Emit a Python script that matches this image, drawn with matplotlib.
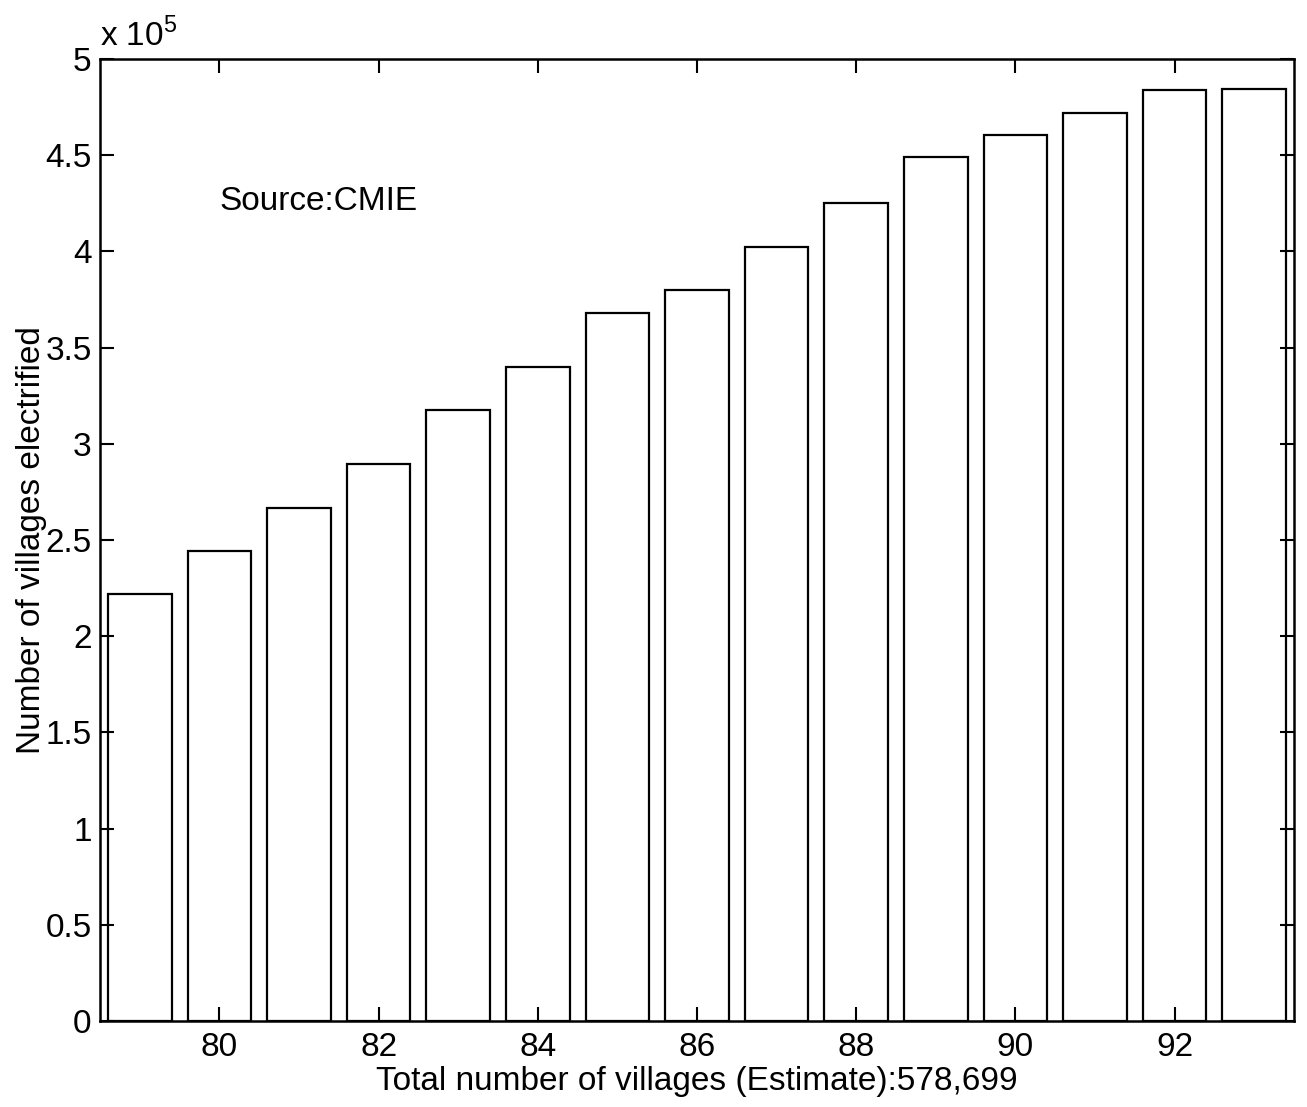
#!/usr/bin/python
# Villages electrified per year (MATLAB style bar chart)
import matplotlib
matplotlib.use('Agg')
import matplotlib.pyplot as plt
import numpy as np

# Years (19xx) and number of villages electrified
years = [79, 80, 81, 82, 83, 84, 85, 86, 87, 88, 89, 90, 91, 92, 93]
villages = [222100, 244200, 266400, 289700, 317800, 340100, 368100, 380100,
            402400, 425200, 449100, 460400, 472100, 484100, 484300]
x_ticks = [80, 82, 84, 86, 88, 90, 92]
y_ticks = [0, 0.5, 1, 1.5, 2, 2.5, 3, 3.5, 4, 4.5, 5]

plt.rcParams['font.family'] = ['Liberation Sans', 'DejaVu Sans']
plt.rcParams['mathtext.fontset'] = 'custom'
plt.rcParams['mathtext.rm'] = 'Liberation Sans'

fs = 24

fig = plt.figure(figsize=(13.07, 11.07), dpi=100)
ax = fig.add_axes([0.0765, 0.0777, 0.9135, 0.869])

# Bars drawn in units of 1e5, like MATLAB's axis multiplier
ax.bar(years, np.array(villages) / 1e5, width=0.8, facecolor='white',
       edgecolor='black', linewidth=1.6)

ax.set_xlim(78.5, 93.5)
ax.set_ylim(0, 5)
ax.set_xticks(x_ticks)
ax.set_yticks(y_ticks)
ax.set_yticklabels(['%g' % v for v in y_ticks])

# Ticks inside, on every side of the box
ax.tick_params(direction='in', length=10, width=1.5, labelsize=fs,
               top=True, right=True)
ax.tick_params(axis='x', pad=8)
ax.tick_params(axis='y', pad=6)
for spine in ax.spines.values():
    spine.set_linewidth(1.8)

ax.text(0, 1.006, 'x 10$^5$', transform=ax.transAxes, fontsize=fs,
        ha='left', va='bottom')
ax.text(80, 4.26, 'Source:CMIE', fontsize=fs, ha='left', va='center')

ax.set_xlabel('Total number of villages (Estimate):578,699', fontsize=fs,
              labelpad=2)
ax.set_ylabel('Number of villages electrified', fontsize=fs, labelpad=-1)

fig.savefig('out.png', dpi=100)
